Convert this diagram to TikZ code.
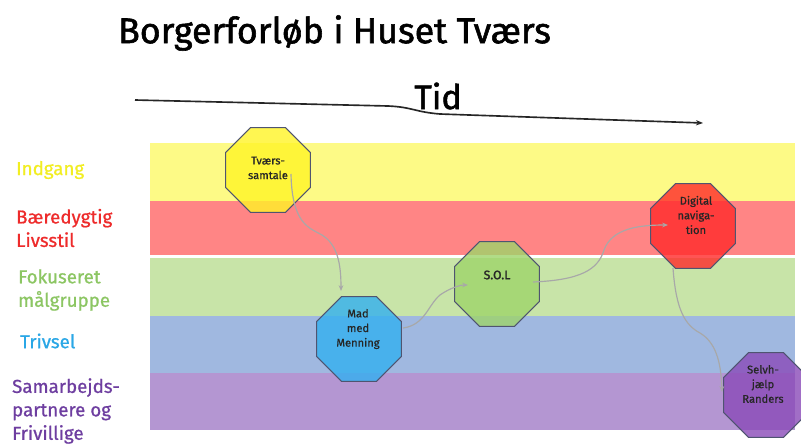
\documentclass[tikz,border=0pt]{standalone}
\usepackage{fontspec}
\setmainfont{Fira Sans}
\newfontfamily\handbold{Fira Sans}[FakeBold=1.6]
\newfontfamily\handmid{Fira Sans}[FakeBold=0.8]
\usetikzlibrary{shapes.geometric,calc,arrows.meta}

\definecolor{yband}{HTML}{FDFA86}
\definecolor{rband}{HTML}{FF8585}
\definecolor{gband}{HTML}{C8E4A8}
\definecolor{bband}{HTML}{A0B8E0}
\definecolor{pband}{HTML}{B496D2}
\definecolor{ylab}{HTML}{F2EE22}
\definecolor{rlab}{HTML}{EE2B2B}
\definecolor{glab}{HTML}{8CC663}
\definecolor{blab}{HTML}{2AA7E6}
\definecolor{plab}{HTML}{6E3EA0}
\definecolor{octline}{HTML}{4F5470}
\definecolor{flowgray}{HTML}{A8A8A8}

\tikzset{
  oct/.style={regular polygon, regular polygon sides=8, minimum size=2.75cm,
    inner sep=0pt, draw=octline, line width=0.8pt, fill opacity=0.8},
  octtxt/.style={align=center, font=\handmid\fontsize{9.5}{12.5}\selectfont, text=black!85},
  side/.style={anchor=west, align=left, font=\handmid\fontsize{16}{20}\selectfont},
  flow/.style={draw=flowgray, line width=1pt, -{Stealth[length=5pt,width=4pt]}},
}

\begin{document}
\begin{tikzpicture}[x=0.03cm,y=-0.03cm]
  \useasboundingbox[fill=white] (0,0) rectangle (801,444);
  % title and time axis
  \node[font=\handbold\fontsize{30.5}{34}\selectfont, anchor=west] (title) at (114,33) {Borgerforløb i Huset Tværs};
  \node[font=\handbold\fontsize{29}{32}\selectfont] (tid) at (438,96) {Tid};
  \coordinate (t0) at (135,100);
  \coordinate (t1) at (703,123);
  \draw[line width=1.4pt, black!85, -{Stealth[length=6pt,width=4.5pt]}] (t0) -- (388,106)
    .. controls (412,107) and (415,112) .. (440,114) -- (t1);
  % bands
  \fill[yband] (150,143) rectangle (795,201);
  \fill[rband] (150,201) rectangle (795,255);
  \fill[gband] (150,258) rectangle (795,316);
  \fill[bband] (150,316) rectangle (795,373);
  \fill[pband] (150,373) rectangle (795,430);
  % side labels
  \node[side, text=ylab] (indgang) at (12,170) {Indgang};
  \node[side, text=rlab] (livsstil) at (12,228) {Bæredygtig\\Livsstil};
  \node[side, text=glab] (fokus) at (14,290) {Fokuseret\\målgruppe};
  \node[side, text=blab] (trivsel) at (16,341) {Trivsel};
  \node[side, text=plab] (samarb) at (8,411) {Samarbejds-\\partnere og\\Frivillige};
  % steps
  \node[oct, fill=yellow!85] (tvaers) at (268,170) {};
  \node[oct, fill={rgb,255:red,51;green,176;blue,240}] (mad) at (359,339) {};
  \node[oct, fill={rgb,255:red,158;green,212;blue,106}] (sol) at (497,284) {};
  \node[oct, fill={rgb,255:red,255;green,42;blue,42}] (digital) at (693,226) {};
  \node[oct, fill={rgb,255:red,138;green,74;blue,184}] (selv) at (766,395) {};
  \node[octtxt] (tvaerstxt) at (268,168) {Tværs-\\samtale};
  \node[octtxt] (madtxt) at (358,329) {Mad\\med\\Menning};
  \node[octtxt, font=\handbold\fontsize{10.5}{12}\selectfont] (soltxt) at (497,275) {S.O.L};
  \node[octtxt] (digitaltxt) at (696,215) {Digital\\naviga-\\tion};
  \node[octtxt] (selvtxt) at (763,384) {Selvh-\\jælp\\Randers};
  % connectors
  \draw[flow] ($(tvaers)+(23,4)$) .. controls (292,225) and (310,228) .. (322,235)
    .. controls (338,245) and (341,265) .. ($(mad)+(-18,-48)$);
  \draw[flow] ($(mad)+(44,-11)$) .. controls (425,325) and (428,305) .. (440,295)
    .. controls (450,288) and (460,285) .. ($(sol)+(-29,1)$);
  \draw[flow] ($(sol)+(36,-2)$) .. controls (580,280) and (598,270) .. (604,250)
    .. controls (612,228) and (640,225) .. ($(digital)+(-25,-1)$);
  \draw[flow] ($(digital)+(-20,42)$) .. controls (676,310) and (685,325) .. (700,333)
    .. controls (715,342) and (721,360) .. ($(selv)+(-44,-3)$);
\end{tikzpicture}
\end{document}
